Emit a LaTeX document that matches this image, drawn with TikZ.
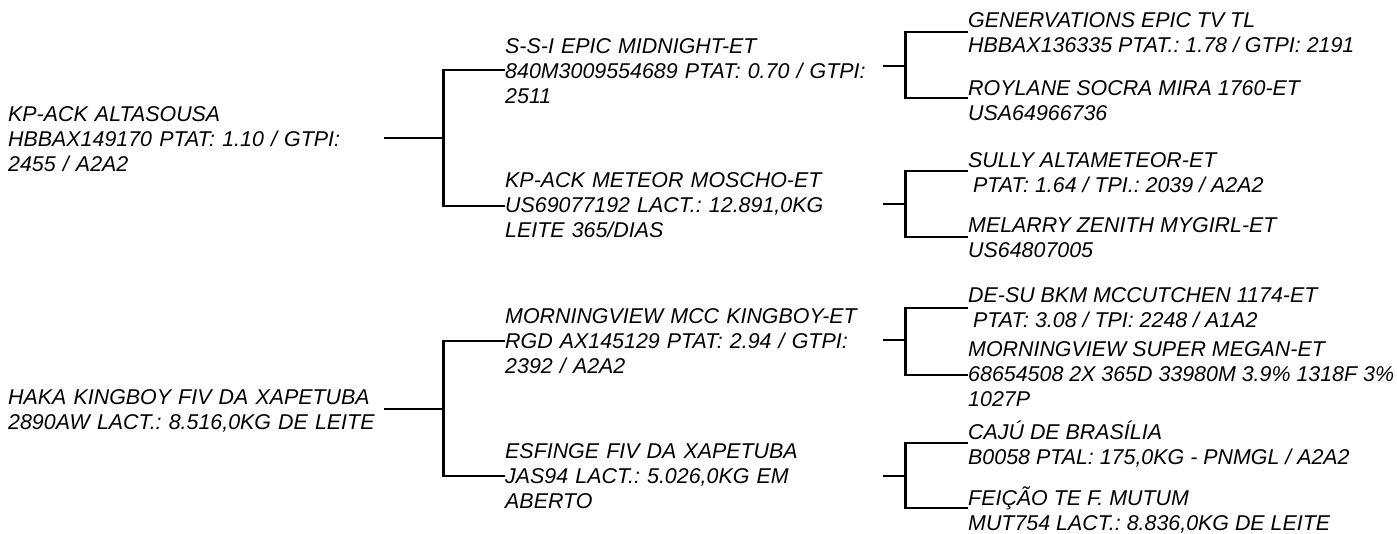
\documentclass[tikz,border=0pt]{standalone}
\usepackage{fontspec}
\setmainfont{Liberation Sans}
\usepackage{tikz}
\frenchspacing
\tikzstyle{animal} = [inner sep=0pt, anchor=west, align=left, font=\fontsize{21.4}{25}\selectfont\itshape, execute at begin node=\strut, execute at end node=\strut]
\tikzstyle{focusdata} = [animal, text width=376pt]
\tikzstyle{parentdata} = [animal, text width=378pt]
\tikzstyle{granddata} = [animal]
\tikzstyle{line} = [draw, line width=2.6pt, color=black]
\newcommand{\focusdata}[2]{node (f#1) [focusdata] {#2}}
\newcommand{\parentdata}[2]{node (p#1) [parentdata] {#2}}
\newcommand{\granddata}[2]{node (g#1) [granddata] {#2}}
\begin{document}
\begin{tikzpicture}[x=1pt,y=-1pt]
\useasboundingbox (0,0) rectangle (1397,533);

\path (8,141) \focusdata{1}{KP-ACK ALTASOUSA\\HBBAX149170 PTAT: 1.10 / GTPI:\\2455 / A2A2};
\path (8,411.5) \focusdata{2}{HAKA KINGBOY FIV DA XAPETUBA\\2890AW LACT.: 8.516,0KG DE LEITE};

\path (f1.west)+(497,-68) \parentdata{1}{S-S-I EPIC MIDNIGHT-ET\\840M3009554689 PTAT: 0.70 / GTPI:\\2511};
\path (f1.west)+(497,66) \parentdata{2}{KP-ACK METEOR MOSCHO-ET\\US69077192 LACT.: 12.891,0KG\\LEITE 365/DIAS};
\path (f2.west)+(497,-68) \parentdata{3}{MORNINGVIEW MCC KINGBOY-ET\\RGD AX145129 PTAT: 2.94 / GTPI:\\2392 / A2A2};
\path (f2.west)+(497,67) \parentdata{4}{ESFINGE FIV DA XAPETUBA\\JAS94 LACT.: 5.026,0KG EM\\ABERTO};

\path (p1.west)+(463,-36.5) \granddata{1}{GENERVATIONS EPIC TV TL\\HBBAX136335 PTAT.: 1.78 / GTPI: 2191};
\path (p1.west)+(463,31) \granddata{2}{ROYLANE SOCRA MIRA 1760-ET\\USA64966736};
\path (p2.west)+(463,-31) \granddata{3}{SULLY ALTAMETEOR-ET\\\hspace*{5pt}PTAT: 1.64 / TPI.: 2039 / A2A2};
\path (p2.west)+(463,34) \granddata{4}{MELARRY ZENITH MYGIRL-ET\\US64807005};
\path (p3.west)+(463,-32) \granddata{5}{DE-SU BKM MCCUTCHEN 1174-ET\\\hspace*{5pt}PTAT: 3.08 / TPI: 2248 / A1A2};
\path (p3.west)+(463,34) \granddata{6}{MORNINGVIEW SUPER MEGAN-ET\\68654508 2X 365D 33980M 3.9\% 1318F 3\%\\1027P};
\path (p4.west)+(463,-32) \granddata{7}{CAJÚ DE BRASÍLIA\\B0058 PTAL: 175,0KG - PNMGL / A2A2};
\path (p4.west)+(463,34) \granddata{8}{FEIÇÃO TE F. MUTUM\\MUT754 LACT.: 8.836,0KG DE LEITE};

\path [line] ([yshift=3pt]f1.east) -- ++(59,0) coordinate (j1);
\path [line] ([yshift=3pt]p1.west) -| (j1) |- ([yshift=1pt]p2.west);
\path [line] ([yshift=2.5pt]f2.east) -- ++(59,0) coordinate (j2);
\path [line] ([yshift=2.5pt]p3.west) -| (j2) |- ([yshift=2.5pt]p4.west);

\path [line] ([yshift=7pt]p1.east) -- ++(22,0) coordinate (j3);
\path [line] ([yshift=4.5pt]g1.west) -| (j3) |- ([yshift=6pt]g2.west);
\path [line] ([yshift=3pt]p2.east) -- ++(22,0) coordinate (j4);
\path [line] ([yshift=5pt]g3.west) -| (j4) |- ([yshift=4pt]g4.west);
\path [line] ([yshift=3.5pt]p3.east) -- ++(22,0) coordinate (j5);
\path [line] ([yshift=3.5pt]g5.west) -| (j5) |- ([yshift=2.5pt]g6.west);
\path [line] ([yshift=2.5pt]p4.east) -- ++(22,0) coordinate (j6);
\path [line] ([yshift=3.5pt]g7.west) -| (j6) |- ([yshift=4.5pt]g8.west);
\end{tikzpicture}
\end{document}
